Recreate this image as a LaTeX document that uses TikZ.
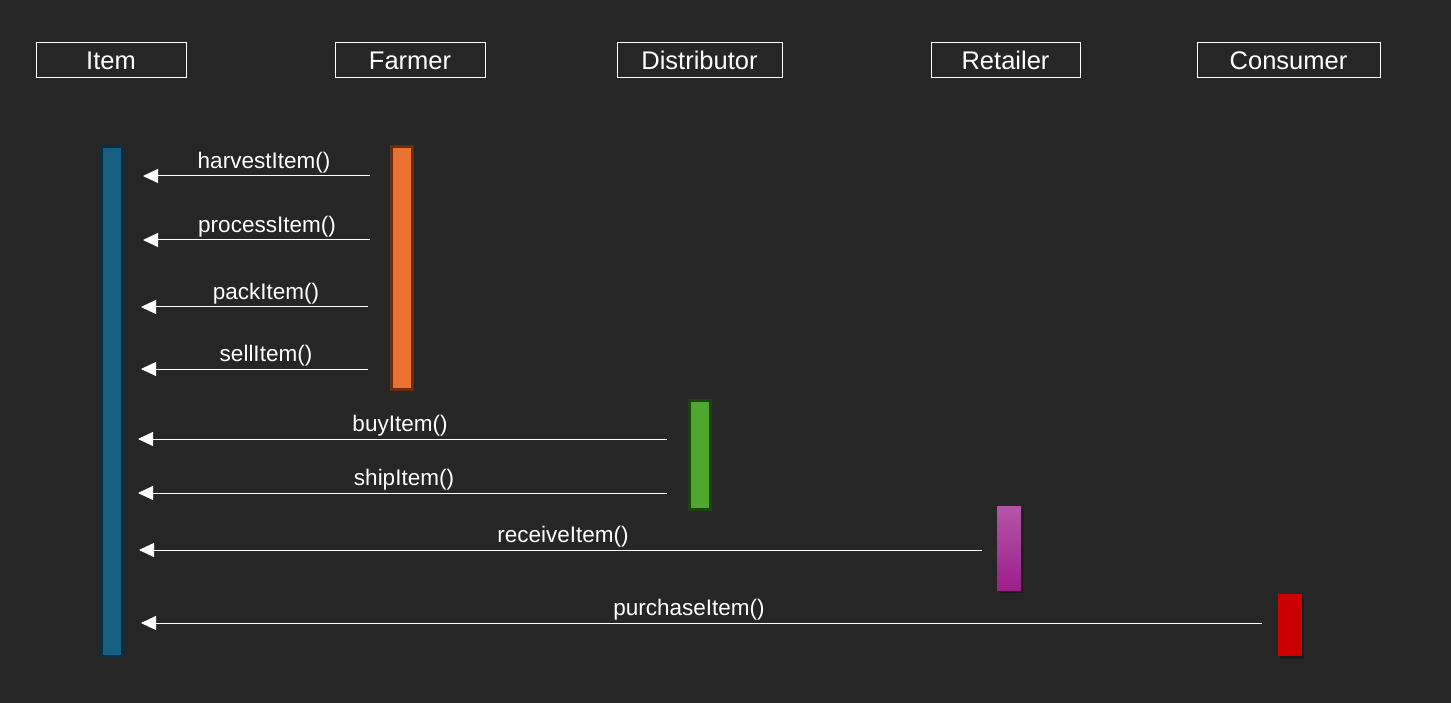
\documentclass[tikz,border=0pt]{standalone}
\usepackage{fontspec}
\setmainfont{Liberation Sans}
\usetikzlibrary{arrows.meta,shadows}
\definecolor{bg}{HTML}{262626}
\definecolor{itemfill}{HTML}{156082}
\definecolor{itemdraw}{HTML}{0A2E40}
\definecolor{farmfill}{HTML}{E97132}
\definecolor{farmdraw}{HTML}{6A2C0E}
\definecolor{distfill}{HTML}{4EA72E}
\definecolor{distdraw}{HTML}{1C4210}
\definecolor{rettop}{HTML}{B455A8}
\definecolor{retbot}{HTML}{9E1E8C}
\definecolor{consfill}{HTML}{CC0000}
\tikzset{
  header/.style={draw=white, line width=1pt, text=white,
    font=\fontsize{25.5}{30}\selectfont, minimum height=35pt, inner sep=0pt},
  bar/.style={line width=3pt, minimum width=21pt, inner sep=0pt},
  shbar/.style={inner sep=0pt, minimum width=24pt,
    drop shadow={shadow xshift=2pt, shadow yshift=-2.5pt, opacity=0.3, fill=black}},
  msg/.style={draw=white, line width=1pt, -{Triangle[length=15pt,width=14pt]}},
  lbl/.style={text=white, font=\fontsize{22.5}{26}\selectfont, inner sep=2.5pt}
}
\begin{document}
\begin{tikzpicture}[x=1pt,y=-1pt]
\fill[bg] (0,0) rectangle (1451,703);
\useasboundingbox (0,0) rectangle (1451,703);

% headers
\node[header, minimum width=150pt] (hItem) at (111,60.5) {Item};
\node[header, minimum width=150pt] (hFarmer) at (410,60.5) {Farmer};
\node[header, minimum width=165pt] (hDist) at (699.5,60.5) {Distributor};
\node[header, minimum width=149pt] (hRet) at (1005.5,60.5) {Retailer};
\node[header, minimum width=183pt] (hCons) at (1288.5,60.5) {Consumer};

% activation bars
\node[bar, draw=itemdraw, fill=itemfill, minimum height=510pt] (ib) at (112,401.5) {};
\node[bar, draw=farmdraw, fill=farmfill, minimum height=243pt] (fb) at (401.5,268) {};
\node[bar, draw=distdraw, fill=distfill, minimum height=109pt] (db) at (700,455) {};
\node[shbar, top color=rettop, bottom color=retbot, minimum height=84pt] (rb) at (1009,548) {};
\node[shbar, fill=consfill, minimum height=62pt] (cb) at (1290,625) {};

% message end points
\coordinate (m1s) at (370,176);  \coordinate (m1e) at (143,176);
\coordinate (m2s) at (370,240);  \coordinate (m2e) at (143,240);
\coordinate (m3s) at (368,307);  \coordinate (m3e) at (141,307);
\coordinate (m4s) at (368,369);  \coordinate (m4e) at (141,369);
\coordinate (m5s) at (667,439);  \coordinate (m5e) at (138,439);
\coordinate (m6s) at (667,493);  \coordinate (m6e) at (138,493);
\coordinate (m7s) at (982,550);  \coordinate (m7e) at (139,550);
\coordinate (m8s) at (1262,623); \coordinate (m8e) at (141,623);

% messages
\draw[msg] (m1s) -- (m1e);
\node[lbl, anchor=south] (l1) at (264,176) {harvestItem()};
\draw[msg] (m2s) -- (m2e);
\node[lbl, anchor=south] (l2) at (267,240) {processItem()};
\draw[msg] (m3s) -- (m3e);
\node[lbl, anchor=south] (l3) at (266,307) {packItem()};
\draw[msg] (m4s) -- (m4e);
\node[lbl, anchor=south] (l4) at (266,369) {sellItem()};
\draw[msg] (m5s) -- (m5e);
\node[lbl, anchor=south] (l5) at (400,439) {buyItem()};
\draw[msg] (m6s) -- (m6e);
\node[lbl, anchor=south] (l6) at (404,493) {shipItem()};
\draw[msg] (m7s) -- (m7e);
\node[lbl, anchor=south] (l7) at (563,550) {receiveItem()};
\draw[msg] (m8s) -- (m8e);
\node[lbl, anchor=south] (l8) at (689,623) {purchaseItem()};
\end{tikzpicture}
\end{document}
